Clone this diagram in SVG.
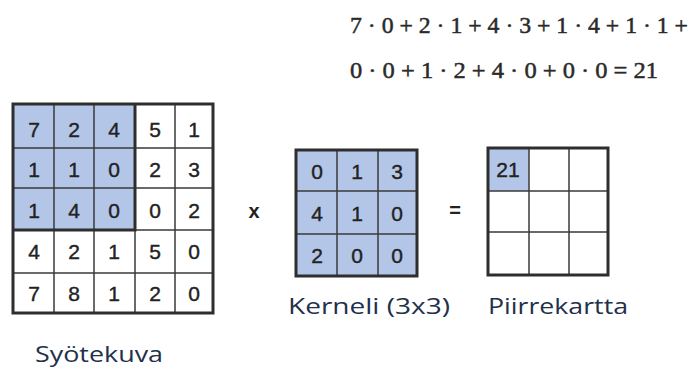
<svg xmlns="http://www.w3.org/2000/svg" width="697" height="370" viewBox="0 0 697 370">
  <style>
    .cell { fill: #ffffff; }
    .hl { fill: #b4c6e7; }
    .thin { stroke: #3a3a3a; stroke-width: 1.5; fill: none; }
    .frame { stroke: #2e2e2e; stroke-width: 3; fill: none; }
    .num { font-family: "Liberation Sans", Arial, sans-serif; font-size: 21px; fill: #222222; stroke: #222222; stroke-width: 0.4; text-anchor: middle; }
    .label { font-family: "Open Sans", "Liberation Sans", sans-serif; font-size: 22px; fill: #22304a; }
    .op { font-family: "Liberation Sans", Arial, sans-serif; font-size: 20px; font-weight: bold; fill: #222222; text-anchor: middle; }
    .math { font-family: "Liberation Serif", "Times New Roman", serif; font-size: 24px; fill: #2a2a2a; stroke: #2a2a2a; stroke-width: 0.5; }
  </style>

  <!-- Formula -->
  <g id="formula">
    <text class="math" x="350" y="33" textLength="338" lengthAdjust="spacingAndGlyphs">7 · 0 + 2 · 1 + 4 · 3 + 1 · 4 + 1 · 1 +</text>
    <text class="math" x="350" y="78" textLength="308" lengthAdjust="spacingAndGlyphs">0 · 0 + 1 · 2 + 4 · 0 + 0 · 0 = 21</text>
  </g>

  <!-- Input image 5x5 -->
  <g id="input">
    <rect class="cell" x="13" y="104" width="200" height="209"/>
    <rect class="hl" x="13" y="104" width="122" height="126"/>
    <path class="thin" d="M54 104V313 M94 104V313 M135 104V313 M175 104V313 M13 148H213 M13 188H213 M13 230H213 M13 273H213"/>
    <path class="frame" d="M135 104V230H13"/>
    <rect class="frame" x="13" y="104" width="200" height="209"/>
    <g class="num">
      <text x="34" y="137">7</text><text x="74" y="137">2</text><text x="114" y="137">4</text><text x="155" y="137">5</text><text x="194" y="137">1</text>
      <text x="34" y="177">1</text><text x="74" y="177">1</text><text x="114" y="177">0</text><text x="155" y="177">2</text><text x="194" y="177">3</text>
      <text x="34" y="218">1</text><text x="74" y="218">4</text><text x="114" y="218">0</text><text x="155" y="218">0</text><text x="194" y="218">2</text>
      <text x="34" y="259">4</text><text x="74" y="259">2</text><text x="114" y="259">1</text><text x="155" y="259">5</text><text x="194" y="259">0</text>
      <text x="34" y="301">7</text><text x="74" y="301">8</text><text x="114" y="301">1</text><text x="155" y="301">2</text><text x="194" y="301">0</text>
    </g>
    <text class="label" x="35" y="362" textLength="128" lengthAdjust="spacingAndGlyphs">Syötekuva</text>
  </g>

  <!-- Multiply sign -->
  <g id="times">
    <text class="op" x="254" y="218">x</text>
  </g>

  <!-- Kernel 3x3 -->
  <g id="kernel">
    <rect class="hl" x="296" y="150" width="121" height="126"/>
    <path class="thin" d="M337 150V276 M378 150V276 M296 191H417 M296 234H417"/>
    <rect class="frame" x="296" y="150" width="121" height="126"/>
    <g class="num">
      <text x="317" y="179">0</text><text x="357" y="179">1</text><text x="397" y="179">3</text>
      <text x="317" y="221">4</text><text x="357" y="221">1</text><text x="397" y="221">0</text>
      <text x="317" y="263">2</text><text x="357" y="263">0</text><text x="397" y="263">0</text>
    </g>
    <text class="label" x="288" y="314" textLength="162" lengthAdjust="spacingAndGlyphs">Kerneli (3x3)</text>
  </g>

  <!-- Equals sign -->
  <g id="equals">
    <text class="op" x="455" y="217">=</text>
  </g>

  <!-- Feature map 3x3 -->
  <g id="feature-map">
    <rect class="cell" x="488" y="148" width="120" height="127"/>
    <rect class="hl" x="488" y="148" width="41" height="43"/>
    <path class="thin" d="M529 148V275 M569 148V275 M488 191H608 M488 232H608"/>
    <rect class="frame" x="488" y="148" width="120" height="127"/>
    <text class="num" x="508" y="177">21</text>
    <text class="label" x="488" y="314" textLength="140" lengthAdjust="spacingAndGlyphs">Piirrekartta</text>
  </g>
</svg>
